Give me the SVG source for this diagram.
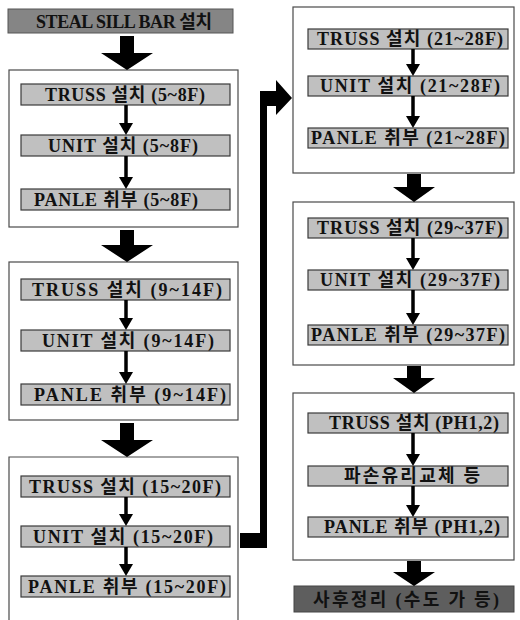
<svg xmlns="http://www.w3.org/2000/svg" width="520" height="620" viewBox="0 0 520 620">
<style>
.grp{fill:#ffffff;stroke:#4a4a4a;stroke-width:1.2}
.box{fill:#c0c0c0;stroke:#3a3a3a;stroke-width:1.2}
.dark{fill:#858585;stroke:#555;stroke-width:1}
.darker{fill:#5e5e5e;stroke:#444;stroke-width:1}
.t{font-family:"Liberation Serif","Noto Sans CJK KR",serif;font-weight:bold;font-size:18px;fill:#111;text-anchor:middle;dominant-baseline:central}
.ln{stroke:#000;stroke-width:3.5;fill:none}
.ah{fill:#000}
</style>
<rect width="520" height="620" fill="#fff"/>

<g id="header">
<rect class="dark" x="8" y="9" width="225" height="24"/>
<text class="t" x="124" y="21.5" fill="#222" textLength="176" lengthAdjust="spacing">STEAL SILL BAR 설치</text>
</g>

<g id="group1">
<rect class="grp" x="9" y="70" width="229" height="157"/>
<g id="g1-truss"><rect class="box" x="21" y="84" width="209" height="21"/><text class="t" x="125" y="94.5" textLength="160" lengthAdjust="spacing">TRUSS 설치 (5~8F)</text></g>
<g id="g1-unit"><rect class="box" x="21" y="135" width="209" height="21"/><text class="t" x="123" y="145.5" textLength="150" lengthAdjust="spacing">UNIT 설치 (5~8F)</text></g>
<g id="g1-panle"><rect class="box" x="21" y="189" width="209" height="21"/><text class="t" x="116" y="199.5" textLength="164" lengthAdjust="spacing">PANLE 취부 (5~8F)</text></g>
</g>

<g id="group2">
<rect class="grp" x="9" y="262" width="229" height="158"/>
<g id="g2-truss"><rect class="box" x="21" y="279" width="209" height="21"/><text class="t" x="127" y="289.5" textLength="190" lengthAdjust="spacing">TRUSS 설치 (9~14F)</text></g>
<g id="g2-unit"><rect class="box" x="21" y="330" width="209" height="21"/><text class="t" x="128" y="340.5" textLength="172" lengthAdjust="spacing">UNIT 설치 (9~14F)</text></g>
<g id="g2-panle"><rect class="box" x="21" y="384" width="209" height="21"/><text class="t" x="130" y="394.5" textLength="192" lengthAdjust="spacing">PANLE 취부 (9~14F)</text></g>
</g>

<g id="group3">
<path class="grp" d="M9,625 V457 H238 V625"/>
<g id="g3-truss"><rect class="box" x="21" y="476" width="209" height="21"/><text class="t" x="125" y="486.5" textLength="192" lengthAdjust="spacing">TRUSS 설치 (15~20F)</text></g>
<g id="g3-unit"><rect class="box" x="21" y="526" width="209" height="21"/><text class="t" x="123" y="536.5" textLength="180" lengthAdjust="spacing">UNIT 설치 (15~20F)</text></g>
<g id="g3-panle"><rect class="box" x="21" y="576" width="209" height="21"/><text class="t" x="127" y="586.5" textLength="198" lengthAdjust="spacing">PANLE 취부 (15~20F)</text></g>
</g>

<g id="group4">
<rect class="grp" x="293" y="7" width="221" height="166"/>
<g id="g4-truss"><rect class="box" x="308" y="29" width="200" height="20"/><text class="t" x="410" y="39" textLength="186" lengthAdjust="spacing">TRUSS 설치 (21~28F)</text></g>
<g id="g4-unit"><rect class="box" x="308" y="76" width="200" height="20"/><text class="t" x="410" y="86" textLength="180" lengthAdjust="spacing">UNIT 설치 (21~28F)</text></g>
<g id="g4-panle"><rect class="box" x="308" y="128" width="200" height="20"/><text class="t" x="408" y="138" textLength="194" lengthAdjust="spacing">PANLE 취부 (21~28F)</text></g>
</g>

<g id="group5">
<rect class="grp" x="293" y="202" width="221" height="163"/>
<g id="g5-truss"><rect class="box" x="308" y="218" width="200" height="20"/><text class="t" x="410" y="228" textLength="186" lengthAdjust="spacing">TRUSS 설치 (29~37F)</text></g>
<g id="g5-unit"><rect class="box" x="308" y="270" width="200" height="20"/><text class="t" x="410" y="280" textLength="180" lengthAdjust="spacing">UNIT 설치 (29~37F)</text></g>
<g id="g5-panle"><rect class="box" x="308" y="325" width="200" height="20"/><text class="t" x="408" y="335" textLength="194" lengthAdjust="spacing">PANLE 취부 (29~37F)</text></g>
</g>

<g id="group6">
<rect class="grp" x="293" y="393" width="221" height="167"/>
<g id="g6-truss"><rect class="box" x="308" y="413" width="200" height="20"/><text class="t" x="414" y="423" textLength="170" lengthAdjust="spacing">TRUSS 설치 (PH1,2)</text></g>
<g id="g6-glass"><rect class="box" x="308" y="466" width="200" height="20"/><text class="t" x="412" y="476" textLength="136" lengthAdjust="spacing">파손유리교체 등</text></g>
<g id="g6-panle"><rect class="box" x="308" y="517" width="200" height="20"/><text class="t" x="412" y="527" textLength="176" lengthAdjust="spacing">PANLE 취부 (PH1,2)</text></g>
</g>

<g id="footer">
<rect class="darker" x="294" y="586" width="220" height="26"/>
<text class="t" x="406" y="599.5" fill="#1a1a1a" textLength="186" lengthAdjust="spacing">사후정리 (수도 가 등)</text>
</g>

<g id="connectors">
<polygon class="ah" points="120,36 134,36 134,53 153,53 127,70 101,53 120,53"/>
<polygon class="ah" points="120,230 134,230 134,245 153,245 127,262 101,245 120,245"/>
<polygon class="ah" points="120,423 134,423 134,440 153,440 127,457 101,440 120,440"/>
<polygon class="ah" points="407,174 421,174 421,187 435,187 414,202 393,187 407,187"/>
<polygon class="ah" points="407,366 421,366 421,378 435,378 414,393 393,378 407,378"/>
<polygon class="ah" points="407,561 421,561 421,572 435,572 414,586 393,572 407,572"/>
<line class="ln" x1="126" y1="105" x2="126" y2="124"/><polygon class="ah" points="119,123 133,123 126,135"/>
<line class="ln" x1="126" y1="156" x2="126" y2="178"/><polygon class="ah" points="119,177 133,177 126,189"/>
<line class="ln" x1="126" y1="300" x2="126" y2="319"/><polygon class="ah" points="119,318 133,318 126,330"/>
<line class="ln" x1="126" y1="351" x2="126" y2="373"/><polygon class="ah" points="119,372 133,372 126,384"/>
<line class="ln" x1="126" y1="497" x2="126" y2="515"/><polygon class="ah" points="119,514 133,514 126,526"/>
<line class="ln" x1="126" y1="547" x2="126" y2="565"/><polygon class="ah" points="119,564 133,564 126,576"/>
<line class="ln" x1="413" y1="49" x2="413" y2="65"/><polygon class="ah" points="406,64 420,64 413,76"/>
<line class="ln" x1="413" y1="96" x2="413" y2="117"/><polygon class="ah" points="406,116 420,116 413,128"/>
<line class="ln" x1="413" y1="238" x2="413" y2="259"/><polygon class="ah" points="406,258 420,258 413,270"/>
<line class="ln" x1="413" y1="290" x2="413" y2="314"/><polygon class="ah" points="406,313 420,313 413,325"/>
<line class="ln" x1="413" y1="433" x2="413" y2="455"/><polygon class="ah" points="406,454 420,454 413,466"/>
<line class="ln" x1="413" y1="486" x2="413" y2="506"/><polygon class="ah" points="406,505 420,505 413,517"/>
<path class="ah" d="M240,533 H260 V91 H276 V80 L292,98 L276,115 V106 H267 V548 H240 Z"/>
</g>
</svg>
